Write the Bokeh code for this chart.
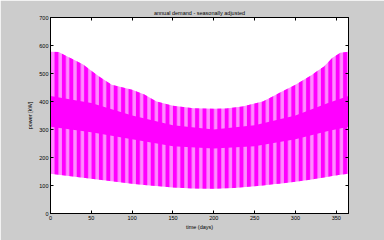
from bokeh.plotting import figure
from bokeh.models import LinearAxis, FixedTicker, Range1d, ColumnDataSource
from bokeh.embed import file_html
from bokeh.resources import INLINE
import numpy as np

# ---- data (power in kW vs day of year) ----
upper_days = [0, 10, 20, 40, 60, 75, 100, 115, 130, 150, 175, 200, 215, 235, 260, 280, 300, 320, 335, 345, 355, 365]
upper_kw = [578, 577, 562, 532, 488, 460, 442, 425, 400, 385, 376, 374, 375, 382, 400, 430, 460, 495, 525, 555, 574, 578]

lower_days = [0, 25, 50, 75, 100, 125, 150, 175, 200, 225, 250, 275, 300, 325, 345, 365]
lower_kw = [142, 133, 124, 115, 106, 99, 93, 89, 88, 91, 97, 105, 113, 124, 134, 142]

core_days = [0, 50, 100, 150, 200, 250, 300, 340, 365]
core_hi_kw = [420, 395, 350, 315, 300, 315, 350, 395, 420]
core_lo_kw = [310, 290, 265, 240, 232, 240, 265, 295, 310]

x_ticks = [0, 50, 100, 150, 200, 250, 300, 350]
y_ticks = [0, 100, 200, 300, 400, 500, 600, 700]

title_text = "annual demand - seasonally adjusted"
x_label = "time (days)"
y_label = "power [kW]"

FONT = "Liberation Sans"
FS = "5.5px"

all_days = sorted(set(upper_days) | set(lower_days))
env = ColumnDataSource(dict(
    x=all_days,
    lo=list(np.interp(all_days, lower_days, lower_kw)),
    hi=list(np.interp(all_days, upper_days, upper_kw)),
))
core = ColumnDataSource(dict(x=core_days, lo=core_lo_kw, hi=core_hi_kw))

p = figure(width=384, height=240, output_backend="svg", toolbar_location=None,
           x_range=Range1d(0, 365), y_range=Range1d(0, 700),
           min_border_left=50, min_border_right=36, min_border_top=17, min_border_bottom=27,
           background_fill_color="white", border_fill_color="#cccccc",
           x_axis_location=None, y_axis_location=None)
p.grid.visible = False
p.outline_line_color = "black"
p.outline_line_width = 1

p.varea(x="x", y1="lo", y2="hi", source=env, fill_color="#ff8cff",
        hatch_pattern="vertical_line", hatch_color="#ff00ff", hatch_scale=7.4, hatch_weight=4)
p.varea(x="x", y1="lo", y2="hi", source=core, fill_color="#ff00ff")

def style_axis(ax):
    ax.axis_line_color = "black"
    ax.major_tick_line_color = "black"
    ax.major_tick_in = 3
    ax.major_tick_out = 0
    ax.minor_tick_line_color = None
    ax.major_label_text_font = FONT
    ax.major_label_text_font_size = FS
    ax.major_label_text_color = "black"
    ax.major_label_standoff = 2
    ax.axis_label_text_font = FONT
    ax.axis_label_text_font_size = FS
    ax.axis_label_text_font_style = "normal"
    ax.axis_label_text_color = "black"
    return ax

def mirror_axis(ticks):
    # ticks only (drawn as minor ticks so no labels are produced)
    ax = LinearAxis(ticker=FixedTicker(ticks=[], minor_ticks=ticks))
    ax.axis_line_color = "black"
    ax.major_tick_line_color = None
    ax.minor_tick_line_color = "black"
    ax.minor_tick_in = 3
    ax.minor_tick_out = 0
    ax.major_label_standoff = 0
    return ax

bx = style_axis(LinearAxis(ticker=FixedTicker(ticks=x_ticks)))
bx.axis_label = x_label
bx.axis_label_standoff = 1
p.add_layout(bx, "below")
ly = style_axis(LinearAxis(ticker=FixedTicker(ticks=y_ticks)))
ly.axis_label = y_label
ly.axis_label_standoff = 3
p.add_layout(ly, "left")
p.add_layout(mirror_axis(x_ticks), "above")
p.add_layout(mirror_axis(y_ticks), "right")

p.title.text = title_text
p.title.align = "center"
p.title.text_font = FONT
p.title.text_font_size = FS
p.title.text_font_style = "normal"
p.title.text_color = "black"
p.title.standoff = 3

open("out.html", "w").write(file_html(p, INLINE))
